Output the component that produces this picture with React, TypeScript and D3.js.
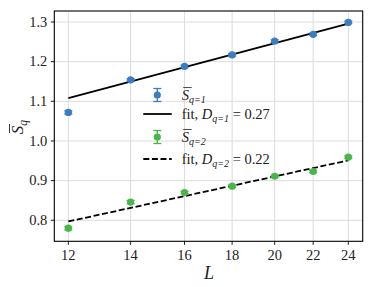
import React from "react";
import * as d3 from "d3";

// system sizes L and the averaged quantity for q=1 and q=2
const sizes = [12, 14, 16, 18, 20, 22, 24];
const sq1 = [1.072, 1.154, 1.188, 1.217, 1.252, 1.269, 1.299];
const sq1Err = [0.004, 0.003, 0.003, 0.003, 0.003, 0.003, 0.003];
const sq2 = [0.78, 0.846, 0.87, 0.886, 0.911, 0.923, 0.959];
const sq2Err = [0.004, 0.004, 0.003, 0.003, 0.003, 0.003, 0.003];

// fit lines, given at L = 12 and L = 24
const fitL = [12, 24];
const fit1 = [1.108, 1.296];
const fit2 = [0.797, 0.951];

const xTicks = [12, 14, 16, 18, 20, 22, 24];
const yTicks = [0.8, 0.9, 1.0, 1.1, 1.2, 1.3];

const blue = "#3a7dc0";
const green = "#48b648";
const serif = "'Liberation Serif', 'DejaVu Serif', serif";
const fs = 14.5;

const W = 374;
const H = 287;
const left = 54.3;
const right = 362.7;
const top = 11;
const bottom = 241.3;

const App = () => {
    const x = d3.scaleLog().domain([11.59, 24.87]).range([left, right]);
    const y = d3.scaleLinear().domain([0.747, 1.3277]).range([bottom, top]);

    const line = d3
        .line<[number, number]>()
        .x(d => x(d[0]))
        .y(d => y(d[1]));

    const series = [
        { vals: sq1, err: sq1Err, color: blue },
        { vals: sq2, err: sq2Err, color: green },
    ];

    // legend symbol with error bar
    const legendMarker = (cy: number, color: string) => (
        <g>
            <line x1={157.3} x2={157.3} y1={cy - 6.5} y2={cy + 6.5} stroke={color} strokeWidth={1.3} />
            <line x1={153.3} x2={161.3} y1={cy - 6.5} y2={cy - 6.5} stroke={color} strokeWidth={1.3} />
            <line x1={153.3} x2={161.3} y1={cy + 6.5} y2={cy + 6.5} stroke={color} strokeWidth={1.3} />
            <circle cx={157.3} cy={cy} r={3.6} fill={color} />
        </g>
    );

    const sLabel = (tx: number, ty: number, sub: string) => (
        <g>
            <line x1={tx + 1.5} x2={tx + 10} y1={ty - 12} y2={ty - 12} stroke="#222" strokeWidth={0.8} />
            <text x={tx} y={ty} fontFamily={serif} fontSize={fs} fill="#222">
                <tspan fontStyle="italic">S</tspan>
                <tspan fontSize={10} dy={3} fontStyle="italic">{sub}</tspan>
            </text>
        </g>
    );

    const fitLabel = (tx: number, ty: number, sub: string, val: string) => (
        <text x={tx} y={ty} fontFamily={serif} fontSize={fs} fill="#222">
            <tspan>fit, </tspan>
            <tspan fontStyle="italic">D</tspan>
            <tspan fontSize={10} dy={3} fontStyle="italic">{sub}</tspan>
            <tspan dy={-3}>{" = " + val}</tspan>
        </text>
    );

    return (
        <svg width={W} height={H} style={{ position: "absolute", left: 0, top: 0, background: "#fff" }}>
            {/* grid */}
            {xTicks.map(t => (
                <line key={"gx" + t} x1={x(t)} x2={x(t)} y1={top} y2={bottom} stroke="#dcdcdc" strokeWidth={1} />
            ))}
            {yTicks.map(t => (
                <line key={"gy" + t} x1={left} x2={right} y1={y(t)} y2={y(t)} stroke="#dcdcdc" strokeWidth={1} />
            ))}

            {/* fits */}
            <path d={line(fitL.map((l, i) => [l, fit1[i]]) as any) || ""} stroke="#000" strokeWidth={1.8} fill="none" />
            <path
                d={line(fitL.map((l, i) => [l, fit2[i]]) as any) || ""}
                stroke="#000"
                strokeWidth={1.8}
                strokeDasharray="6,2.6"
                fill="none"
            />

            {/* data */}
            {series.map((s, si) => (
                <g key={"s" + si}>
                    {sizes.map((l, i) => (
                        <g key={i}>
                            <line x1={x(l)} x2={x(l)} y1={y(s.vals[i] - s.err[i])} y2={y(s.vals[i] + s.err[i])} stroke={s.color} strokeWidth={1.3} />
                            <line x1={x(l) - 4} x2={x(l) + 4} y1={y(s.vals[i] - s.err[i])} y2={y(s.vals[i] - s.err[i])} stroke={s.color} strokeWidth={1.3} />
                            <line x1={x(l) - 4} x2={x(l) + 4} y1={y(s.vals[i] + s.err[i])} y2={y(s.vals[i] + s.err[i])} stroke={s.color} strokeWidth={1.3} />
                            <circle cx={x(l)} cy={y(s.vals[i])} r={3.6} fill={s.color} />
                        </g>
                    ))}
                </g>
            ))}

            {/* frame */}
            <rect x={left} y={top} width={right - left} height={bottom - top} fill="none" stroke="#000" strokeWidth={1.1} />

            {/* x axis */}
            {xTicks.map(t => (
                <g key={"xt" + t}>
                    <line x1={x(t)} x2={x(t)} y1={bottom} y2={bottom + 3.5} stroke="#000" strokeWidth={0.9} />
                    <text x={x(t)} y={bottom + 18.5} textAnchor="middle" fontFamily={serif} fontSize={fs} fill="#222">
                        {t}
                    </text>
                </g>
            ))}
            {/* y axis */}
            {yTicks.map(t => (
                <g key={"yt" + t}>
                    <line x1={left - 3.5} x2={left} y1={y(t)} y2={y(t)} stroke="#000" strokeWidth={0.9} />
                    <text x={left - 7} y={y(t) + 4.8} textAnchor="end" fontFamily={serif} fontSize={fs} fill="#222">
                        {d3.format(".1f")(t)}
                    </text>
                </g>
            ))}

            {/* axis labels */}
            <text x={209} y={279} textAnchor="middle" fontFamily={serif} fontSize={18} fontStyle="italic" fill="#222">
                L
            </text>
            <g transform="translate(23,127) rotate(-90)">
                <line x1={-6} x2={3} y1={-13.5} y2={-13.5} stroke="#222" strokeWidth={0.9} />
                <text x={0} y={0} textAnchor="middle" fontFamily={serif} fontSize={17} fill="#222">
                    <tspan fontStyle="italic">S</tspan>
                    <tspan fontSize={11.5} dy={3.5} fontStyle="italic">q</tspan>
                </text>
            </g>

            {/* legend */}
            {legendMarker(95, blue)}
            {sLabel(181.7, 99.5, "q=1")}
            <line x1={143.3} x2={171.7} y1={114} y2={114} stroke="#000" strokeWidth={1.8} />
            {fitLabel(181.7, 119, "q=1", "0.27")}
            {legendMarker(137, green)}
            {sLabel(181.7, 141.5, "q=2")}
            <line x1={143.3} x2={171.7} y1={159} y2={159} stroke="#000" strokeWidth={1.8} strokeDasharray="6,2.6" />
            {fitLabel(181.7, 164, "q=2", "0.22")}
        </svg>
    );
};

export default App;
